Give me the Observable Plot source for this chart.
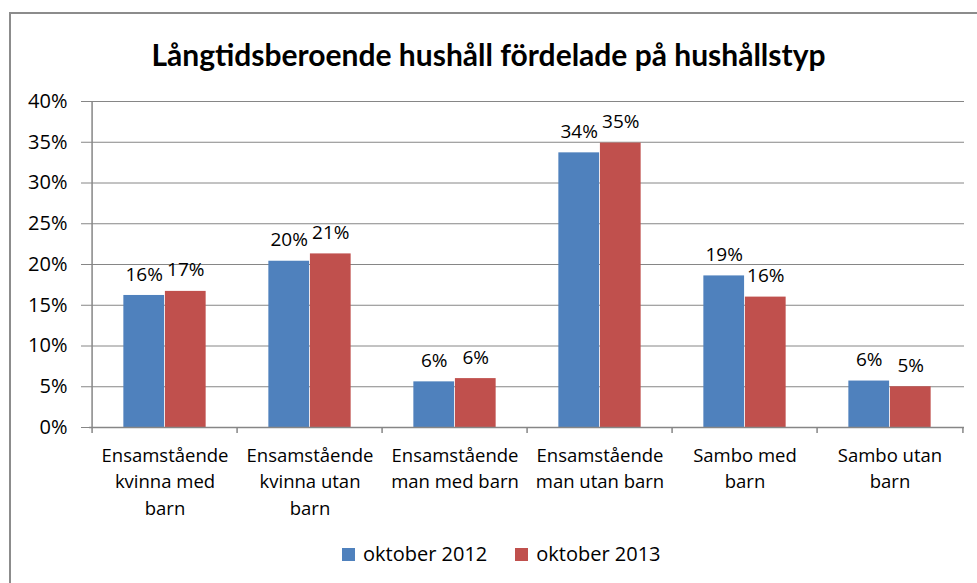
<!DOCTYPE html>
<html><head><meta charset="utf-8">
<script src="https://cdn.jsdelivr.net/npm/d3@7"></script>
<script src="https://cdn.jsdelivr.net/npm/@observablehq/plot@0.6"></script>
<style>
body{margin:0;background:#fff;}
#wrap{position:relative;width:977px;height:583px;overflow:hidden;font-family:"Open Sans",sans-serif;background:#fff}
#frame{position:absolute;left:9px;top:12px;width:1000px;height:600px;border:2px solid #8c8c8c;box-sizing:border-box}
#title{position:absolute;left:0;width:977px;top:36px;text-align:center;font:bold 30px Lato,sans-serif;color:#000;line-height:36px}
#chart{position:absolute;left:0;top:0}
#legend{position:absolute;top:540px;left:342px;display:flex;align-items:center;font-size:20px;color:#000;white-space:nowrap;line-height:28px}
.sw{display:inline-block;width:13px;height:13px;margin-right:8px}
.item{display:flex;align-items:center;margin-right:28px}
</style></head>
<body>
<div id="wrap">
  <div id="frame"></div>
  <div id="title">Långtidsberoende hushåll fördelade på hushållstyp</div>
  <div id="chart"></div>
  <div id="legend"></div>
</div>
<script>
const categories = ["Ensamstående kvinna med barn","Ensamstående kvinna utan barn","Ensamstående man med barn","Ensamstående man utan barn","Sambo med barn","Sambo utan barn"];
const categoryLabels = ["Ensamstående\nkvinna med\nbarn","Ensamstående\nkvinna utan\nbarn","Ensamstående\nman med barn","Ensamstående\nman utan barn","Sambo med\nbarn","Sambo utan\nbarn"];
const series = ["oktober 2012","oktober 2013"];
const values2012 = [16.2, 20.4, 5.6, 33.7, 18.6, 5.7];
const values2013 = [16.7, 21.3, 6.0, 34.9, 16.0, 5.0];
const yTicks = [0,5,10,15,20,25,30,35,40];
const colors = ["#4F81BD","#C0504D"];

const W = 977, H = 583, ml = 89, mr = 13, mt = 101, mb = 156;
const bw = (W - ml - mr) / categories.length;
const barW = bw * 0.285;

const d12 = categories.map((c,i)=>({cat:c, value:values2012[i], series:series[0]}));
const d13 = categories.map((c,i)=>({cat:c, value:values2013[i], series:series[1]}));
const labelOf = new Map(categories.map((c,i)=>[c, categoryLabels[i]]));
const gridColor = "#868686";

const plot = Plot.plot({
  width: W, height: H,
  marginLeft: ml, marginRight: mr, marginTop: mt, marginBottom: mb,
  style: {fontFamily: "'Open Sans', sans-serif", fontSize: "18px", color: "#000", background: "transparent"},
  x: {domain: categories, padding: 0, label: null},
  y: {domain: [0, 40], label: null},
  color: {domain: series, range: colors},
  marks: [
    Plot.ruleY(yTicks.filter(d => d > 0), {y: d => d, stroke: gridColor, strokeWidth: 1}),
    Plot.barY(d12, {x: "cat", y: "value", fill: colors[0], insetLeft: bw/2 - barW, insetRight: bw/2}),
    Plot.barY(d13, {x: "cat", y: "value", fill: colors[1], insetLeft: bw/2, insetRight: bw/2 - barW}),
    Plot.text(d12, {x: "cat", y: "value", text: d => Math.round(d.value) + "%", dx: -barW/2, dy: -21, fill: "#000", fontSize: 19}),
    Plot.text(d13, {x: "cat", y: "value", text: d => Math.round(d.value) + "%", dx: barW/2, dy: -21, fill: "#000", fontSize: 19}),
    Plot.ruleY([0], {y: d => d, stroke: gridColor, strokeWidth: 1.5}),
    Plot.ruleX([categories[0]], {x: d => d, dx: -bw/2, y1: 0, y2: 40, stroke: gridColor, strokeWidth: 1.5}),
    Plot.ruleX(categories, {x: d => d, dx: -bw/2, y1: 0, y2: 0, insetBottom: -6, stroke: gridColor, strokeWidth: 1.5}),
    Plot.ruleX([categories[categories.length-1]], {x: d => d, dx: bw/2, y1: 0, y2: 0, insetBottom: -6, stroke: gridColor, strokeWidth: 1.5}),
    Plot.axisY({ticks: yTicks, tickFormat: d => d + "%", tickSize: 8, tickPadding: 14, stroke: gridColor, fill: "#000", fontSize: 20}),
    Plot.axisX({tickSize: 0, tickPadding: 16, tickFormat: d => labelOf.get(d), fill: "#000", fontSize: 18.5, lineHeight: 1.42})
  ]
});
document.getElementById("chart").appendChild(plot);

const legend = document.getElementById("legend");
series.forEach((s,i) => {
  const it = document.createElement("span");
  it.className = "item";
  const sw = document.createElement("span");
  sw.className = "sw"; sw.style.background = colors[i];
  it.appendChild(sw);
  it.appendChild(document.createTextNode(s));
  legend.appendChild(it);
});
</script>
</body></html>
